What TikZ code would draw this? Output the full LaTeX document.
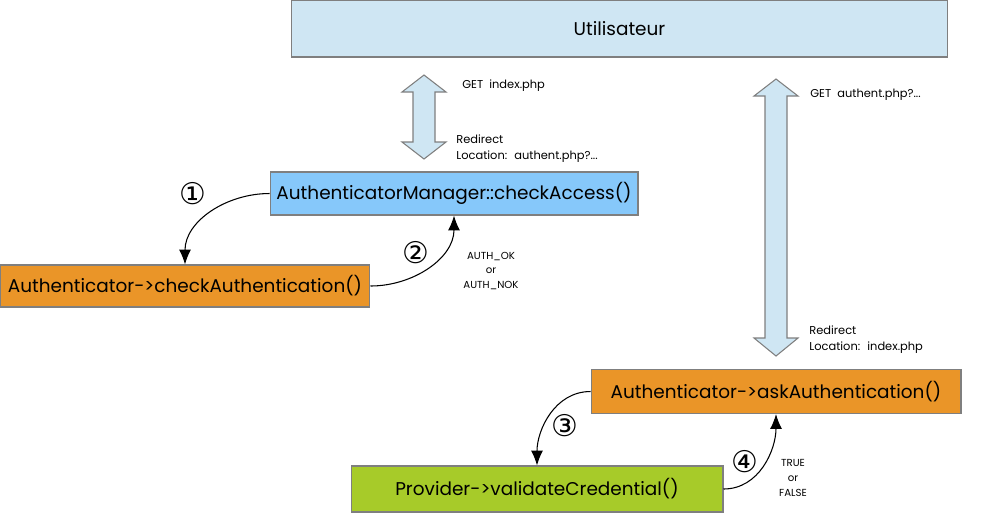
\documentclass[tikz,border=0pt]{standalone}
\usepackage{fontspec}
\setmainfont{Poppins}
\newfontfamily\circfont{DejaVu Sans}
\usetikzlibrary{arrows.meta}
\definecolor{userBlue}{HTML}{CFE6F3}
\definecolor{managerBlue}{HTML}{86C8FA}
\definecolor{authOrange}{HTML}{EA9528}
\definecolor{providerGreen}{HTML}{A7CB29}
\definecolor{edgeGray}{HTML}{7F7F7F}

\tikzset{
  box/.style={draw=edgeGray, line width=0.6pt, inner sep=0pt, font=\fontsize{10.5}{12}\selectfont},
  flow/.style={-{Latex[length=8.5pt,width=6.8pt]}, line width=0.6pt},
  bigarrow/.style={draw=edgeGray, fill=userBlue, line width=0.6pt},
  note/.style={font=\fontsize{6.5}{9}\selectfont, align=left, inner sep=0pt},
  small/.style={font=\fontsize{5.8}{8.5}\selectfont, align=center, inner sep=0pt},
  num/.style={font=\circfont\fontsize{17}{17}\selectfont, inner sep=0pt},
}

\begin{document}
\begin{tikzpicture}[x={(0.02cm,0)}, y={(0,-0.02cm)}]
  \useasboundingbox (0,0) rectangle (983,512);

  % Boxes
  \node[box, fill=userBlue, minimum width=13.14cm, minimum height=1.14cm] (user) at (619.5,28.5) {Utilisateur};
  \node[box, fill=managerBlue, minimum width=7.36cm, minimum height=0.86cm] (manager) at (454,193.5) {AuthenticatorManager::checkAccess()};
  \node[box, fill=authOrange, minimum width=7.4cm, minimum height=0.84cm] (checkauth) at (185,286) {Authenticator->checkAuthentication()};
  \node[box, fill=authOrange, minimum width=7.4cm, minimum height=0.88cm] (askauth) at (776,391.5) {Authenticator->askAuthentication()};
  \node[box, fill=providerGreen, minimum width=7.44cm, minimum height=0.92cm] (provider) at (537,489) {Provider->validateCredential()};

  % HTTP exchanges
  \draw[bigarrow] (424,75) -- (446,92) -- (435,92) -- (435,142) -- (446,142) -- (424,159)
    -- (402,142) -- (413,142) -- (413,92) -- (402,92) -- cycle;
  \draw[bigarrow] (776,79) -- (798,96) -- (787,96) -- (787,338) -- (798,338) -- (776,356)
    -- (754,338) -- (765,338) -- (765,96) -- (754,96) -- cycle;

  \node[note, anchor=base west] (getindex) at (462,88) {GET~ index.php};
  \node[note, anchor=base west] (redirauth) at (456,159) {Redirect\\Location:~ authent.php?...};
  \node[note, anchor=base west] (getauth) at (810,97) {GET~ authent.php?...};
  \node[note, anchor=base west] (redirindex) at (809,350) {Redirect\\Location:~ index.php};

  % Calls
  \draw[flow] (manager.west) to[out=180,in=90] (checkauth.north);
  \draw[flow] (checkauth.east) to[out=0,in=-90] (manager.south);
  \draw[flow] (askauth.west) to[out=180,in=90] (provider.north);
  \draw[flow] (provider.east) to[out=0,in=-90] (askauth.south);

  \node[num] (one) at (193,194) {①};
  \node[num] (two) at (416,253) {②};
  \node[num] (three) at (565,426) {③};
  \node[num] (four) at (745,462) {④};

  \node[small] (authres) at (491,271) {AUTH\_OK\\or\\AUTH\_NOK};
  \node[small] (boolres) at (793,478) {TRUE\\or\\FALSE};
\end{tikzpicture}
\end{document}
